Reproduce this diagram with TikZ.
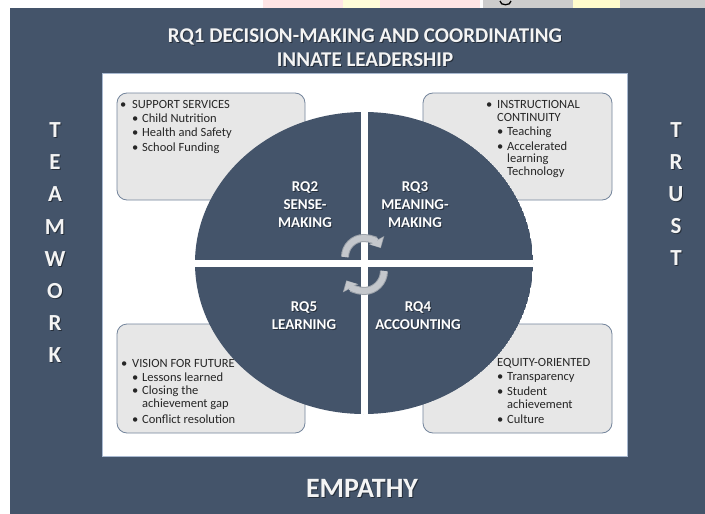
\documentclass[tikz,border=0pt]{standalone}
\usepackage{fontspec}
\setmainfont{Carlito}
\usetikzlibrary{arrows.meta}
\definecolor{panel}{HTML}{44546A}
\definecolor{boxfill}{HTML}{E7E7E7}
\definecolor{boxline}{HTML}{74859C}
\definecolor{arrowfill}{HTML}{C4C7CC}
\definecolor{arrowline}{HTML}{9CA2AA}
\definecolor{titletext}{HTML}{F4F4F4}
\definecolor{innerline}{HTML}{A9B9D0}
\newcommand\shlabel[4]{%
  \node[#3, text=black, opacity=0.45, xshift=1pt, yshift=-1pt] (#1s) at (#2) {#4};
  \node[#3] (#1) at (#2) {#4};}
\begin{document}
\begin{tikzpicture}[x=1pt,y=-1pt,
  infobox/.style={draw=boxline, line width=0.8pt, fill=boxfill, rounded corners=10pt},
  item/.style={anchor=west, inner sep=0pt, text=black!85, font=\fontsize{12.5}{14}\selectfont},
  qlabel/.style={align=center, text=white, inner sep=0pt, font=\bfseries\fontsize{15}{18}\selectfont},
  titlelbl/.style={align=center, text=titletext, inner sep=0pt, font=\bfseries\fontsize{21}{23}\selectfont},
  sidelbl/.style={text=titletext, inner sep=0pt, font=\bfseries\fontsize{23}{24}\selectfont},
  bottomlbl/.style={text=titletext, inner sep=0pt, font=\bfseries\fontsize{28}{30}\selectfont},
]
\useasboundingbox (0,0) rectangle (705,514);
% top strip fragments
\fill[white] (0,0) rectangle (705,514);
\fill[red!10] (263,0) rectangle (480,8);
\fill[yellow!15] (343,0) rectangle (380,8);
\fill[black!20] (483,0) rectangle (705,8);
\fill[yellow!20] (573,0) rectangle (620,8);
\draw[black, line width=1.3pt] (500,1) .. controls (500,6) and (511,6) .. (511,1);
% panels
\fill[panel] (10,8) rectangle (705,514);
\fill[white, draw=innerline, line width=0.6pt] (102,73) rectangle (627,456);
% titles
\shlabel{t1}{365,37}{titlelbl}{RQ1 DECISION-MAKING AND COORDINATING}
\shlabel{t2}{365,60}{titlelbl}{INNATE LEADERSHIP}
\shlabel{emp}{362,488}{bottomlbl}{EMPATHY}
\foreach \ch [count=\i] in {T,E,A,M,W,O,R,K}
  {\shlabel{tw\i}{55,{130+32.2*(\i-1)}}{sidelbl}{\ch}}
\foreach \ch [count=\i] in {T,R,U,S,T}
  {\shlabel{tr\i}{676,{130+32*(\i-1)}}{sidelbl}{\ch}}
% info boxes
\draw[infobox] (117,93) rectangle (305,200);
\draw[infobox] (423,93) rectangle (612,200);
\draw[infobox] (117,324) rectangle (305,433);
\draw[infobox] (423,324) rectangle (612,433);
% top-left
\node[item] (a1) at (120,104) {\makebox[12pt][l]{•}SUPPORT SERVICES};
\node[item] (a2) at (132,118) {\makebox[10pt][l]{•}Child Nutrition};
\node[item] (a3) at (132,133) {\makebox[10pt][l]{•}Health and Safety};
\node[item] (a4) at (132,148) {\makebox[10pt][l]{•}School Funding};
% top-right
\node[item] (b1) at (486,104) {\makebox[11pt][l]{•}INSTRUCTIONAL};
\node[item] (b2) at (497,117) {CONTINUITY};
\node[item] (b3) at (497,132) {\makebox[10pt][l]{•}Teaching};
\node[item] (b4) at (497,146) {\makebox[10pt][l]{•}Accelerated};
\node[item] (b5) at (507,159) {learning};
\node[item] (b6) at (507,172) {Technology};
% bottom-left
\node[item] (c1) at (121,363) {\makebox[11pt][l]{•}VISION FOR FUTURE};
\node[item] (c2) at (132,377) {\makebox[10pt][l]{•}Lessons learned};
\node[item] (c3) at (132,391) {\makebox[10pt][l]{•}Closing the};
\node[item] (c4) at (142,404) {achievement gap};
\node[item] (c5) at (132,419) {\makebox[10pt][l]{•}Conflict resolution};
% bottom-right
\node[item] (d1) at (485,363) {\makebox[12pt][l]{•}EQUITY-ORIENTED};
\node[item] (d2) at (497,377) {\makebox[10pt][l]{•}Transparency};
\node[item] (d3) at (497,391) {\makebox[10pt][l]{•}Student};
\node[item] (d4) at (507,404) {achievement};
\node[item] (d5) at (497,419) {\makebox[10pt][l]{•}Culture};
% circle of four quadrants
\coordinate (ctr) at (364,263);
\begin{scope}
\clip (ctr) ellipse [x radius=169, y radius=151];
\fill[panel] (ctr) ellipse [x radius=169, y radius=151];
\fill[white] (360.5,100) rectangle (367.5,420);
\fill[white] (190,260) rectangle (540,266.5);
\end{scope}
% cycle arrows
\coordinate (cu) at (364,257);
\coordinate (cl) at (364,271);
\draw[line width=8pt, arrowline, -{Triangle[width=17pt,length=9pt]}] (cu) ++(180:19) arc[start angle=180, end angle=332, radius=19];
\draw[line width=6pt, arrowfill, -{Triangle[width=14pt,length=7.5pt]}] (cu) ++(180:19) arc[start angle=180, end angle=330, radius=19];
\draw[line width=8pt, arrowline, -{Triangle[width=17pt,length=9pt]}] (cl) ++(0:20) arc[start angle=0, end angle=152, radius=20];
\draw[line width=6pt, arrowfill, -{Triangle[width=14pt,length=7.5pt]}] (cl) ++(0:20) arc[start angle=0, end angle=150, radius=20];
% quadrant labels
\shlabel{q2}{305,205}{qlabel}{RQ2\\SENSE-\\MAKING}
\shlabel{q3}{415,205}{qlabel}{RQ3\\MEANING-\\MAKING}
\shlabel{q5}{304,316}{qlabel}{RQ5\\LEARNING}
\shlabel{q4}{418,316}{qlabel}{RQ4\\ACCOUNTING}
\end{tikzpicture}
\end{document}
